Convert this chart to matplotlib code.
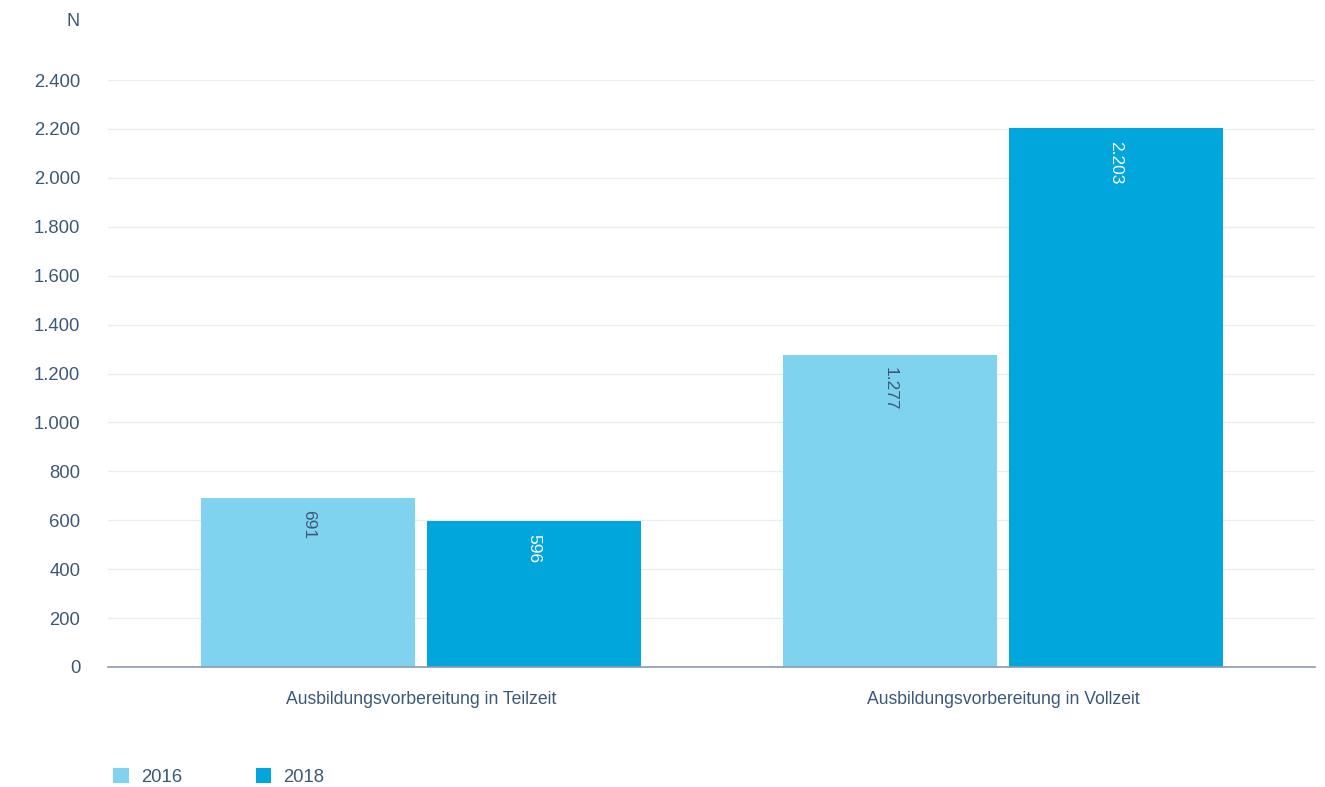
import matplotlib.pyplot as plt
import numpy as np

plt.rcParams['font.family'] = ['Liberation Sans', 'DejaVu Sans']

categories = ["Ausbildungsvorbereitung in Teilzeit", "Ausbildungsvorbereitung in Vollzeit"]
years = ["2016", "2018"]
values_2016 = [691, 1277]
values_2018 = [596, 2203]
y_ticks = [0, 200, 400, 600, 800, 1000, 1200, 1400, 1600, 1800, 2000, 2200, 2400]

text_color = "#3b5878"
colors = ["#7fd3ef", "#00a6dc"]
label_colors = [text_color, "#ffffff"]


def fmt(v):
    return f"{v:,}".replace(",", ".")


fig = plt.figure(figsize=(13.25, 7.87), dpi=100)
ax = fig.add_axes([0.0815, 0.1525, 0.911, 0.7458])

x = np.arange(len(categories))
width = 0.368
offset = 0.194

for i, (vals, year) in enumerate(zip([values_2016, values_2018], years)):
    pos = x + (i * 2 - 1) * offset
    ax.bar(pos, vals, width=width, color=colors[i], label=year, zorder=2)
    for p, v in zip(pos, vals):
        ax.annotate(fmt(v), (p, v), xytext=(0, -9), textcoords="offset points",
                    rotation=270, ha="center", va="top", fontsize=12.5,
                    color=label_colors[i], zorder=3)

ax.set_xlim(-0.538, 1.536)
ax.set_ylim(0, 2400)
ax.set_yticks(y_ticks)
ax.set_yticklabels([fmt(t) for t in y_ticks])
ax.set_xticks(x)
ax.set_xticklabels(categories)
ax.tick_params(axis="y", length=0, pad=20, labelsize=13.3, labelcolor=text_color)
ax.tick_params(axis="x", length=0, pad=17, labelsize=12.7, labelcolor=text_color)
ax.grid(axis="y", color="#e9edf1", linewidth=1, zorder=0)

for side in ["top", "right", "left"]:
    ax.spines[side].set_visible(False)
ax.spines["bottom"].set_color("#8a9bb0")
ax.spines["bottom"].set_linewidth(1.2)
ax.spines["bottom"].set_zorder(4)

fig.text(80 / 1325, 1 - 22 / 787, "N", ha="right", va="center", fontsize=13, color=text_color)

fig.legend(loc="center left", bbox_to_anchor=(113 / 1325, 1 - 777 / 787),
           ncol=2, frameon=False, fontsize=13.3, handlelength=0.85, handleheight=0.85,
           handletextpad=0.65, columnspacing=4.0, labelcolor=text_color,
           borderpad=0, borderaxespad=0)

fig.savefig("out.png", dpi=100)
